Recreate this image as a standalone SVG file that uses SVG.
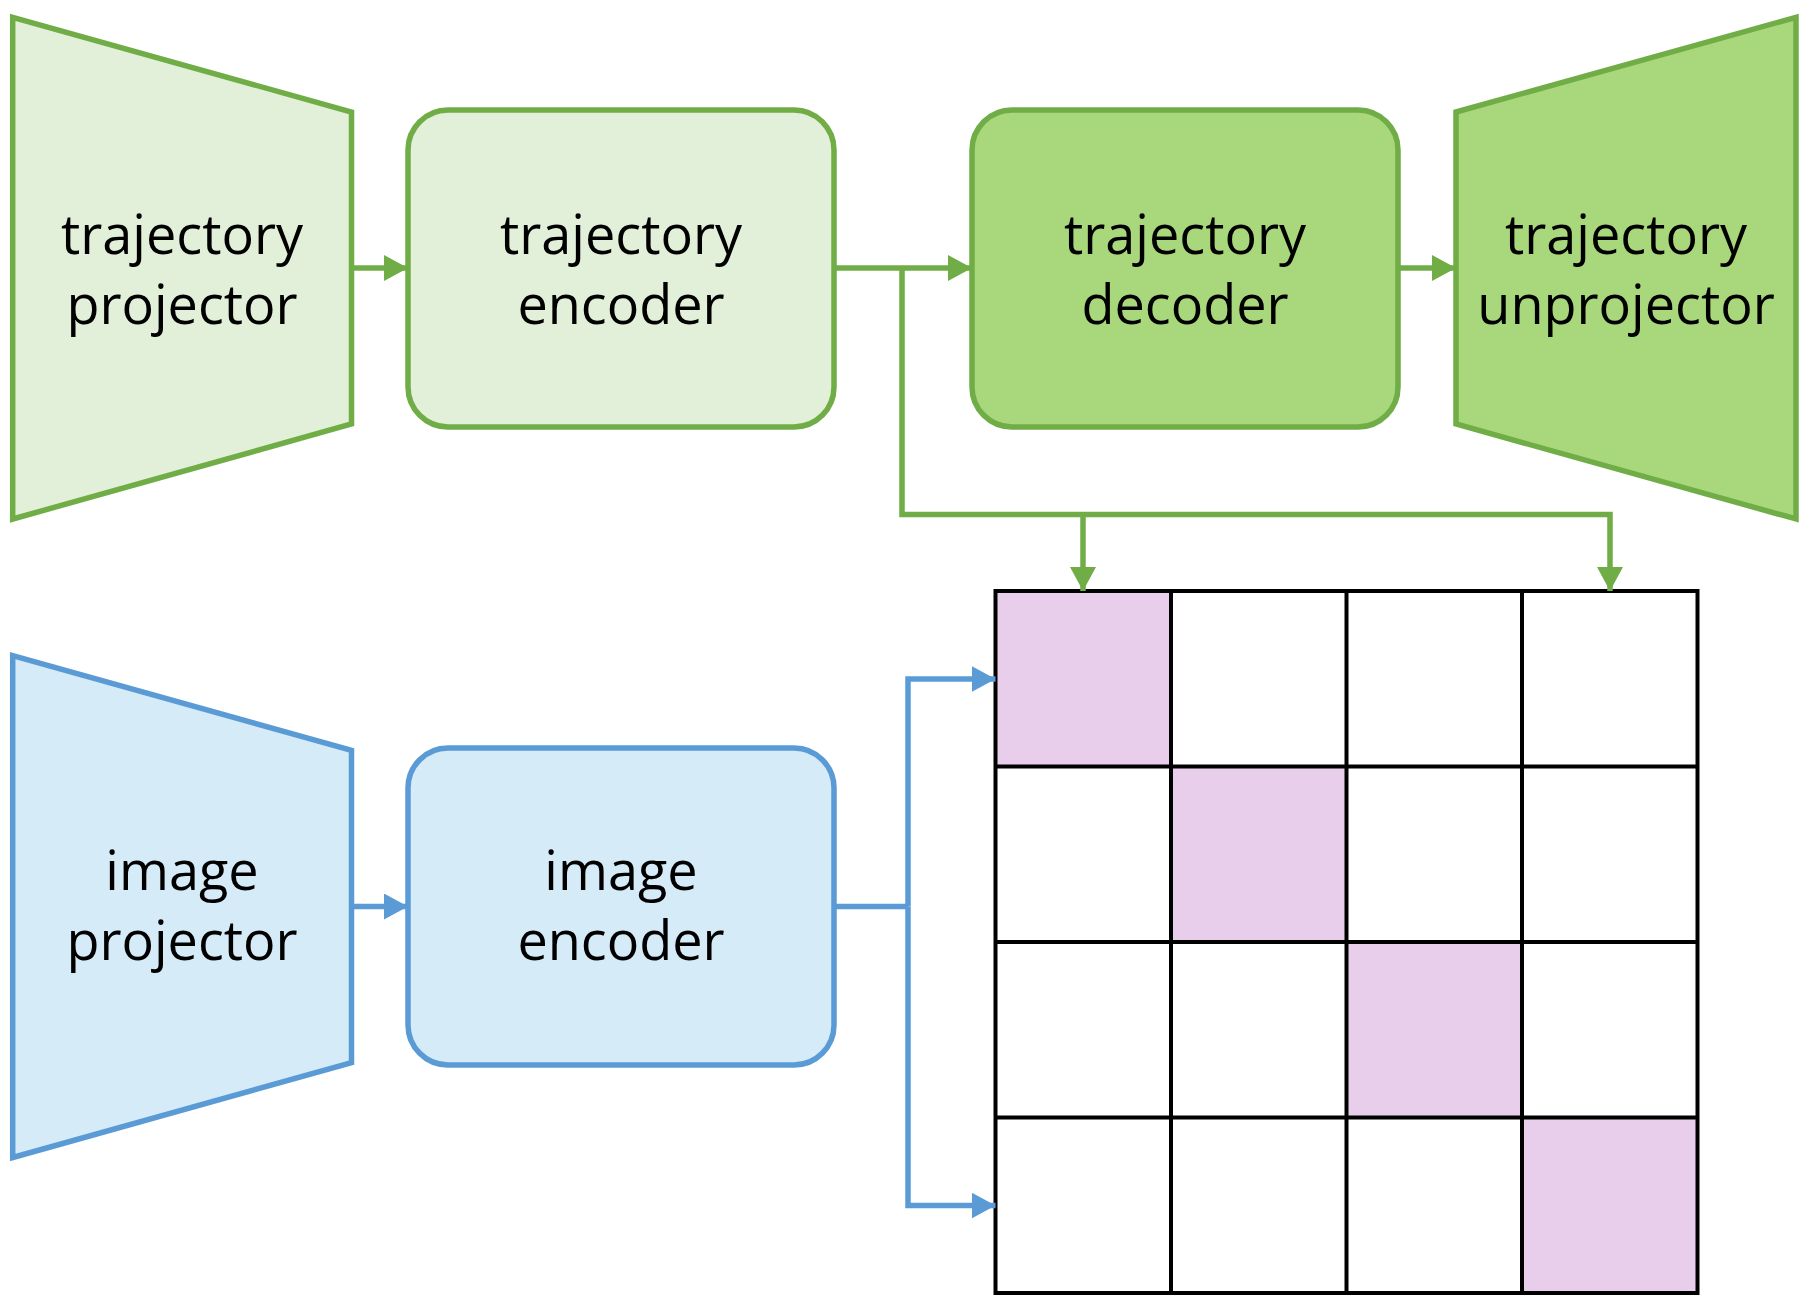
<svg xmlns="http://www.w3.org/2000/svg" width="1813" height="1305" viewBox="0 0 1813 1305">
<style>
.gs{stroke:#70AD47;stroke-width:5.5;stroke-linejoin:miter}
.bs{stroke:#5B9BD5;stroke-width:5.5;stroke-linejoin:miter}
.light{fill:#E2F0D9}
.dark{fill:#A9D77C}
.blue{fill:#D5EBF8}
.lbl{font-family:"Open Sans","Noto Sans",sans-serif;font-size:54px;fill:#000;text-anchor:middle}
.gc{fill:none;stroke:#70AD47;stroke-width:5.5}
.bc{fill:none;stroke:#5B9BD5;stroke-width:5.5}
.grid{fill:none;stroke:#000;stroke-width:4}
.pink{fill:#E8CEEB}
</style>
<defs>
<marker id="ag" markerUnits="userSpaceOnUse" markerWidth="24" markerHeight="26" viewBox="0 0 24 26" refX="24" refY="13" orient="auto">
<path d="M0,0 L24,13 L0,26 Z" fill="#70AD47"/>
</marker>
<marker id="ab" markerUnits="userSpaceOnUse" markerWidth="24" markerHeight="26" viewBox="0 0 24 26" refX="24" refY="13" orient="auto">
<path d="M0,0 L24,13 L0,26 Z" fill="#5B9BD5"/>
</marker>
</defs>

<g id="traj-projector">
<polygon class="gs light" points="12.7,17.3 351.5,112 351.5,424 12.7,519"/>
<text class="lbl" x="182" y="254">trajectory</text>
<text class="lbl" x="182" y="324">projector</text>
</g>
<g id="traj-encoder">
<rect class="gs light" x="408" y="110" width="426" height="317" rx="40"/>
<text class="lbl" x="621" y="254">trajectory</text>
<text class="lbl" x="621" y="324">encoder</text>
</g>
<g id="traj-decoder">
<rect class="gs dark" x="972" y="110" width="426" height="317" rx="40"/>
<text class="lbl" x="1185" y="254">trajectory</text>
<text class="lbl" x="1185" y="324">decoder</text>
</g>
<g id="traj-unprojector">
<polygon class="gs dark" points="1456,112 1796,17.3 1796,519 1456,424"/>
<text class="lbl" x="1626" y="254">trajectory</text>
<text class="lbl" x="1626" y="324">unprojector</text>
</g>
<g id="img-projector">
<polygon class="bs blue" points="12.7,655.6 351.5,750.4 351.5,1062.6 12.7,1157.5"/>
<text class="lbl" x="182" y="890">image</text>
<text class="lbl" x="182" y="960">projector</text>
</g>
<g id="img-encoder">
<rect class="bs blue" x="408" y="748" width="426" height="317" rx="40"/>
<text class="lbl" x="621" y="890">image</text>
<text class="lbl" x="621" y="960">encoder</text>
</g>
<g id="similarity-matrix">
<rect class="pink" x="995.5" y="591" width="175.5" height="175.5"/>
<rect class="pink" x="1171" y="766.5" width="175.5" height="175.5"/>
<rect class="pink" x="1346.5" y="942" width="175.5" height="175.5"/>
<rect class="pink" x="1522" y="1117.5" width="175.5" height="175.5"/>
<rect class="grid" x="995.5" y="591" width="702" height="702"/>
<path class="grid" d="M1171,591 V1293 M1346.5,591 V1293 M1522,591 V1293 M995.5,766.5 H1697.5 M995.5,942 H1697.5 M995.5,1117.5 H1697.5"/>
</g>
<g id="connectors">
<path class="gc" d="M351.5,268 H408" marker-end="url(#ag)"/>
<path class="gc" d="M834,268 H972" marker-end="url(#ag)"/>
<path class="gc" d="M1398,268 H1456" marker-end="url(#ag)"/>
<path class="gc" d="M902,268 V514.5 H1610 V591" marker-end="url(#ag)"/>
<path class="gc" d="M1083,514.5 V591" marker-end="url(#ag)"/>
<path class="bc" d="M351.5,906.5 H408" marker-end="url(#ab)"/>
<path class="bc" d="M834,906.5 H908"/>
<path class="bc" d="M908,906.5 V679 H995.5" marker-end="url(#ab)"/>
<path class="bc" d="M908,906.5 V1205.5 H995.5" marker-end="url(#ab)"/>
</g>
</svg>
